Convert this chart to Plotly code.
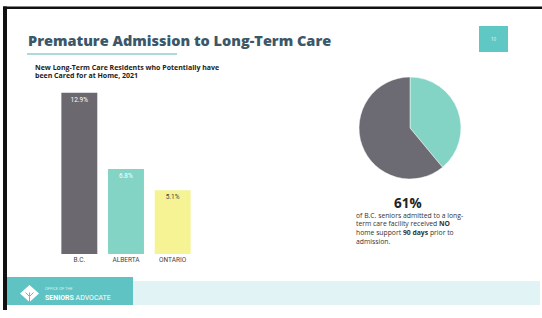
import plotly.graph_objects as go

W, H = 542, 318

# ---- data ----
provinces = ["B.C.", "ALBERTA", "ONTARIO"]
shares = [12.9, 6.8, 5.1]
bar_labels = ["12.9%", "6.8%", "5.1%"]
bar_colors = ["#6b6870", "#84d4c6", "#f5f394"]
bar_text_colors = ["#ffffff", "#ffffff", "#444444"]

pie_labels = ["Received home support", "NO home support 90 days prior"]
pie_values = [39, 61]
pie_colors = ["#84d4c6", "#6c6a72"]


def px(x):
    return x / W


def py(y):
    return 1 - y / H


fig = go.Figure()

fig.add_trace(go.Bar(
    x=provinces, y=shares, text=bar_labels,
    marker=dict(color=bar_colors, line=dict(width=0)),
    textposition="inside", insidetextanchor="end",
    textfont=dict(family="Roboto", size=6.5, color=bar_text_colors),
    textangle=0, hoverinfo="skip", showlegend=False,
    xaxis="x", yaxis="y",
))

fig.add_trace(go.Pie(
    labels=pie_labels, values=pie_values, sort=False, direction="clockwise",
    rotation=0, marker=dict(colors=pie_colors, line=dict(color="#ffffff", width=0.5)),
    textinfo="none", hoverinfo="skip", showlegend=False,
    domain=dict(x=[px(359), px(461)], y=[py(179), py(77)]),
))

fig.update_layout(
    width=W, height=H,
    margin=dict(l=0, r=0, t=0, b=0),
    paper_bgcolor="#ffffff", plot_bgcolor="rgba(0,0,0,0)",
    bargap=0.23,
    xaxis=dict(domain=[px(56), px(196)], showgrid=False, zeroline=False,
               showline=False, ticks="",
               tickfont=dict(family="Roboto", size=6.5, color="#444444"),
               fixedrange=True),
    yaxis=dict(domain=[py(254), py(79)], range=[0, 14], showgrid=False,
               zeroline=False, showline=False, showticklabels=False,
               fixedrange=True),
    font=dict(family="Open Sans"),
)

shapes = []
# frame lines
shapes.append(dict(type="rect", xref="paper", yref="paper", x0=px(3), x1=px(542),
                   y0=py(9), y1=py(6.5), fillcolor="#111111", line=dict(width=0), layer="above"))
shapes.append(dict(type="rect", xref="paper", yref="paper", x0=px(3), x1=px(7),
                   y0=py(310), y1=py(6.5), fillcolor="#111111", line=dict(width=0), layer="above"))
# title underline
shapes.append(dict(type="line", xref="paper", yref="paper", x0=px(27), x1=px(177),
                   y0=py(54), y1=py(54), line=dict(color="#8ccfcb", width=1.5)))
# page number square
shapes.append(dict(type="rect", xref="paper", yref="paper", x0=px(479), x1=px(508),
                   y0=py(52), y1=py(26), fillcolor="#5fc7c4", line=dict(width=0)))
# footer bands
shapes.append(dict(type="rect", xref="paper", yref="paper", x0=px(133), x1=px(540),
                   y0=py(305), y1=py(281), fillcolor="#e2f3f6", line=dict(width=0), layer="below"))
shapes.append(dict(type="rect", xref="paper", yref="paper", x0=px(7), x1=px(133),
                   y0=py(305), y1=py(277), fillcolor="#5fc3c4", line=dict(width=0)))
# logo diamond
cx, cy, hw, hh = 29.5, 293.5, 9.5, 8.5
path = (f"M {px(cx)} {py(cy-hh)} L {px(cx+hw)} {py(cy)} "
        f"L {px(cx)} {py(cy+hh)} L {px(cx-hw)} {py(cy)} Z")
shapes.append(dict(type="path", xref="paper", yref="paper", path=path,
                   fillcolor="#ffffff", line=dict(width=0)))
shapes.append(dict(type="line", xref="paper", yref="paper", x0=px(cx), x1=px(cx),
                   y0=py(cy - 1), y1=py(cy + hh), line=dict(color="#5fc3c4", width=1)))
shapes.append(dict(type="line", xref="paper", yref="paper", x0=px(cx - 4), x1=px(cx),
                   y0=py(cy - 1), y1=py(cy + 3), line=dict(color="#5fc3c4", width=1)))
shapes.append(dict(type="line", xref="paper", yref="paper", x0=px(cx + 4), x1=px(cx),
                   y0=py(cy - 1), y1=py(cy + 3), line=dict(color="#5fc3c4", width=1)))
fig.update_layout(shapes=shapes)

ann = []


def text(x, y, s, size, color, xanchor="left", family="Open Sans", weight=None):
    f = dict(family=family, size=size, color=color)
    if weight:
        f["weight"] = weight
    ann.append(dict(x=px(x), y=py(y), xref="paper", yref="paper", text=s,
                    showarrow=False, xanchor=xanchor, yanchor="middle", font=f))


text(26, 41, "Premature Admission to Long-Term Care", 14.5, "#3b5768", weight=800)
text(33, 67, "<b>New Long-Term Care Residents who Potentially have</b>", 7, "#222222")
text(33, 75.5, "<b>been Cared for at Home, 2021</b>", 7, "#222222")
text(493.5, 39, "10", 4.5, "#e8f8f8", xanchor="center")
text(408, 203, "<b>61%</b>", 13.5, "#222222", xanchor="center")
pie_lines = [
    "of B.C. seniors admitted to a long-",
    "term care facility received <b>NO</b>",
    "home support <b>90 days</b> prior to",
    "admission.",
]
for i, s in enumerate(pie_lines):
    text(354, 215.5 + 8.5 * i, s, 6.8, "#333333")
text(43, 288, "OFFICE OF THE", 4, "#d6f1f0", family="Roboto")
text(43, 297.5, "<b>SENIORS</b> ADVOCATE", 7, "#ffffff", family="Roboto")
fig.update_layout(annotations=ann)

fig.write_html(
    "out.html",
    config={"displayModeBar": False, "staticPlot": True},
    post_script="document.body.style.margin='0px';document.body.style.overflow='hidden';",
)
